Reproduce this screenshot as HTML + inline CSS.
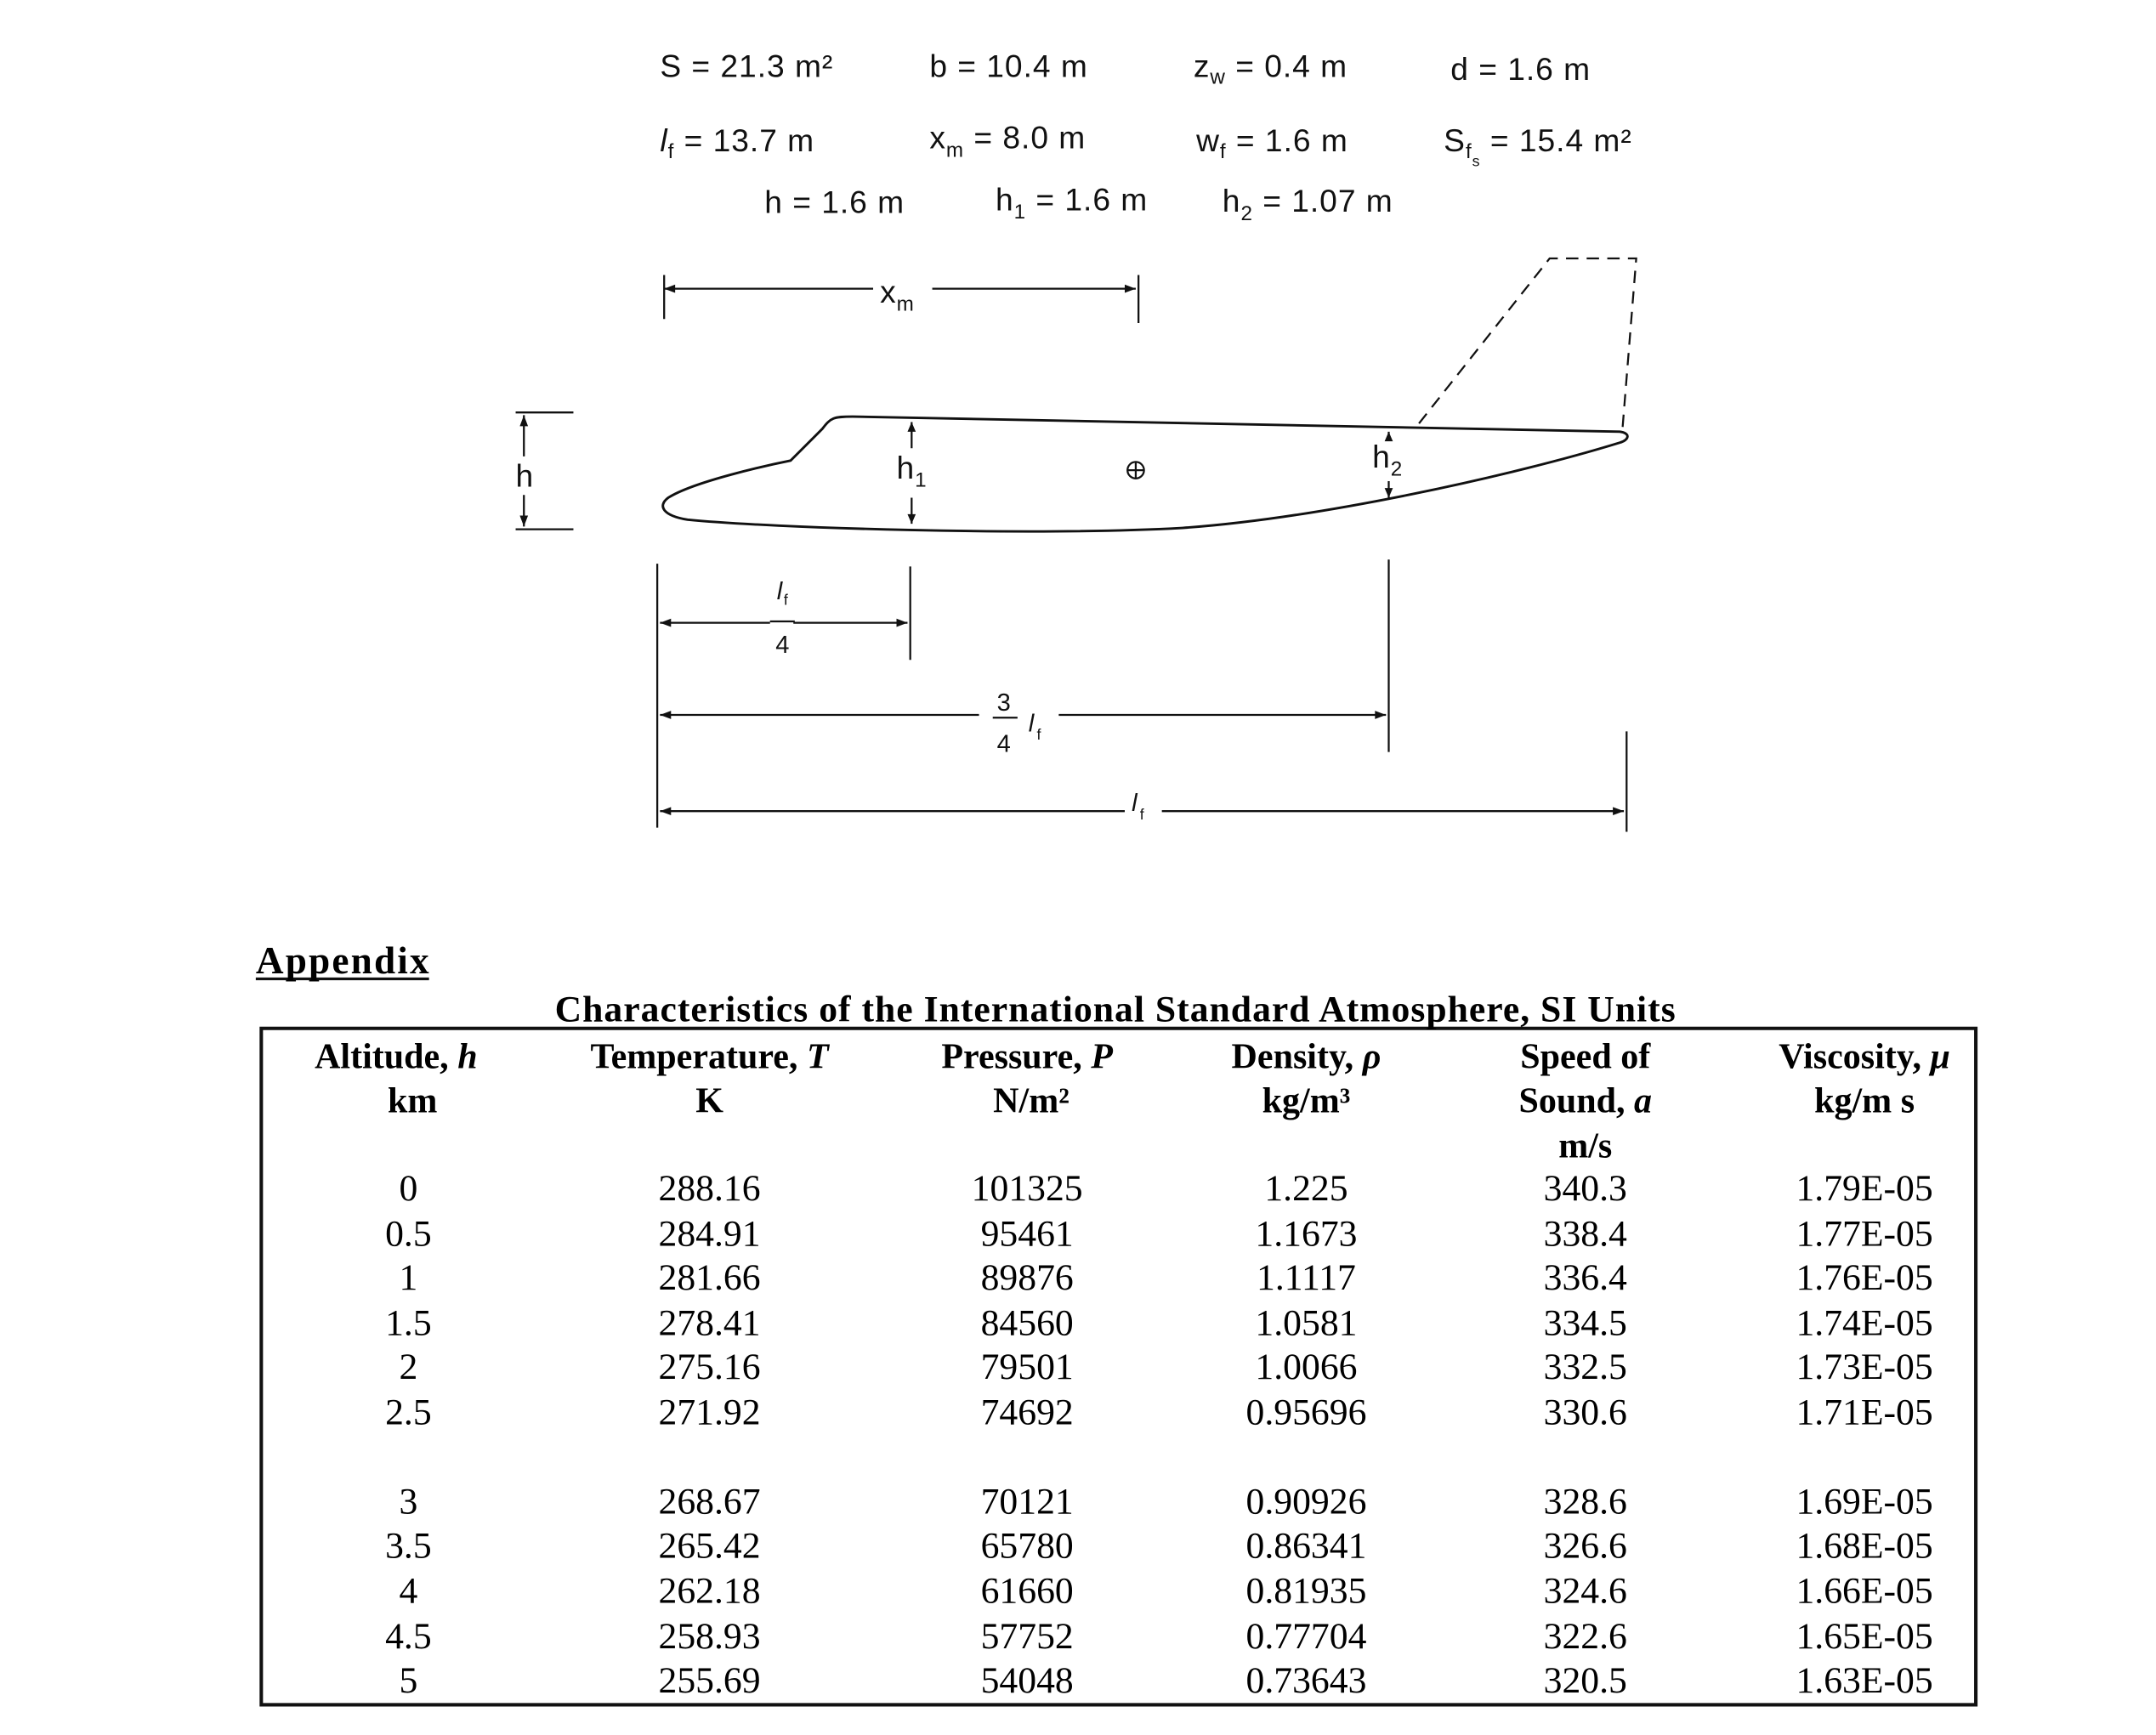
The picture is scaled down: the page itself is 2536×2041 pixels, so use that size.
<!DOCTYPE html>
<html><head><meta charset="utf-8"><style>html,body{margin:0;padding:0;background:#fff}svg{display:block}</style></head>
<body>
<svg width="2536" height="2041" viewBox="0 0 1568 1262" xmlns="http://www.w3.org/2000/svg">
<rect width="1568" height="1262" fill="#fff"/>
<g font-family="Liberation Sans, sans-serif" font-size="23" fill="#111" letter-spacing="0.6">
<text x="480" y="56">S = 21.3 m²</text>
<text x="676" y="56">b = 10.4 m</text>
<text x="868" y="56">z<tspan font-size="15" dy="5">w</tspan><tspan dy="-5"> = 0.4 m</tspan></text>
<text x="1055" y="58">d = 1.6 m</text>
<text x="480" y="110"><tspan font-style="italic">l</tspan><tspan font-size="15" dy="5">f</tspan><tspan dy="-5"> = 13.7 m</tspan></text>
<text x="676" y="108">x<tspan font-size="15" dy="6">m</tspan><tspan dy="-6"> = 8.0 m</tspan></text>
<text x="870" y="110">w<tspan font-size="15" dy="5">f</tspan><tspan dy="-5"> = 1.6 m</tspan></text>
<text x="1050" y="110">S<tspan font-size="15" dy="5">f</tspan><tspan font-size="11" dy="6">s</tspan><tspan dy="-11"> = 15.4 m²</tspan></text>
<text x="556" y="155">h = 1.6 m</text>
<text x="724" y="153">h<tspan font-size="15" dy="6">1</tspan><tspan dy="-6"> = 1.6 m</tspan></text>
<text x="889" y="154">h<tspan font-size="15" dy="6">2</tspan><tspan dy="-6"> = 1.07 m</tspan></text>
<text x="640" y="220">x<tspan font-size="15" dy="6">m</tspan></text>
<text x="375" y="354">h</text>
<text x="652" y="348">h<tspan font-size="15" dy="6">1</tspan></text>
<text x="998" y="340">h<tspan font-size="15" dy="6">2</tspan></text>
<g font-size="18" letter-spacing="0"><text x="565" y="436" font-style="italic">l</text><text x="570" y="440" font-size="11">f</text><text x="564" y="475">4</text>
<text x="725" y="517">3</text><text x="725" y="547">4</text><text x="748" y="532" font-style="italic">l</text><text x="754" y="538" font-size="11">f</text>
<text x="823" y="590" font-style="italic">l</text><text x="829" y="596" font-size="11">f</text></g>
</g>
<g stroke="#111" fill="none" stroke-width="1.4">
<path d="M483 200V232M828 200V235M483 210H635M678 210H826"/>
<path d="M375 300H417M375 385H417M381 302V332M381 360V383"/>
<path d="M663 307V326M663 362V381M1010 314V320M1010 350V362"/>
<path d="M478 410V602M662 412V480M1010 407V547M1183 532V605"/>
<path d="M480 453H560M577 453H660M560 452H578"/>
<path d="M480 520H712M770 520H1008M722 522H740"/>
<path d="M480 590H818M845 590H1181"/>
<path d="M598 312C604 304 606 303 620 303L1178 314C1186 315 1185 320 1178 322C1100 346 960 377 860 384C750 390 560 384 500 378C482 375 478 368 486 362C505 350 560 338 575 335Z" stroke-width="1.8"/>
<path d="M1032 308L1127 188H1190L1180 312" stroke-dasharray="9 6"/>
<circle cx="826" cy="342" r="6"/><path d="M820 342H832M826 336V348"/>
<path d="M190 748H1437V1240H190Z" stroke-width="2.5"/>
<path d="M186 712H312" stroke-width="2"/>
</g>
<g fill="#111"><path d="M483 210l8-3v6zM826 210l-8-3v6zM381 302l-3 8h6zM381 383l-3-8h6zM663 307l-3 7h6zM663 381l-3-7h6zM1010 314l-3 7h6zM1010 362l-3-7h6zM480 453l8-3v6zM660 453l-8-3v6zM480 520l8-3v6zM1008 520l-8-3v6zM480 590l8-3v6zM1181 590l-8-3v6z"/></g>
<g font-family="Liberation Serif, serif" fill="#000" text-anchor="middle">
<text x="186" y="708" font-size="28" font-weight="bold" text-anchor="start" textLength="126">Appendix</text>
<text x="811" y="743" font-size="27" font-weight="bold" textLength="815">Characteristics of the International Standard Atmosphere, SI Units</text>
<g font-size="26" font-weight="bold">
<text x="288" y="777">Altitude, <tspan font-style="italic">h</tspan></text><text x="300" y="809">km</text>
<text x="516" y="777">Temperature, <tspan font-style="italic">T</tspan></text><text x="516" y="809">K</text>
<text x="747" y="777">Pressure, <tspan font-style="italic">P</tspan></text><text x="750" y="809">N/m²</text>
<text x="950" y="777">Density, <tspan font-style="italic">ρ</tspan></text><text x="950" y="809">kg/m³</text>
<text x="1153" y="777">Speed of</text><text x="1153" y="809">Sound, <tspan font-style="italic">a</tspan></text><text x="1153" y="842">m/s</text>
<text x="1356" y="777">Viscosity, <tspan font-style="italic">μ</tspan></text><text x="1356" y="809">kg/m s</text>
</g>
<g font-size="27">
<text y="873"><tspan x="297">0</tspan><tspan x="516">288.16</tspan><tspan x="747">101325</tspan><tspan x="950">1.225</tspan><tspan x="1153">340.3</tspan><tspan x="1356">1.79E-05</tspan></text>
<text y="906"><tspan x="297">0.5</tspan><tspan x="516">284.91</tspan><tspan x="747">95461</tspan><tspan x="950">1.1673</tspan><tspan x="1153">338.4</tspan><tspan x="1356">1.77E-05</tspan></text>
<text y="938"><tspan x="297">1</tspan><tspan x="516">281.66</tspan><tspan x="747">89876</tspan><tspan x="950">1.1117</tspan><tspan x="1153">336.4</tspan><tspan x="1356">1.76E-05</tspan></text>
<text y="971"><tspan x="297">1.5</tspan><tspan x="516">278.41</tspan><tspan x="747">84560</tspan><tspan x="950">1.0581</tspan><tspan x="1153">334.5</tspan><tspan x="1356">1.74E-05</tspan></text>
<text y="1003"><tspan x="297">2</tspan><tspan x="516">275.16</tspan><tspan x="747">79501</tspan><tspan x="950">1.0066</tspan><tspan x="1153">332.5</tspan><tspan x="1356">1.73E-05</tspan></text>
<text y="1036"><tspan x="297">2.5</tspan><tspan x="516">271.92</tspan><tspan x="747">74692</tspan><tspan x="950">0.95696</tspan><tspan x="1153">330.6</tspan><tspan x="1356">1.71E-05</tspan></text>
<text y="1101"><tspan x="297">3</tspan><tspan x="516">268.67</tspan><tspan x="747">70121</tspan><tspan x="950">0.90926</tspan><tspan x="1153">328.6</tspan><tspan x="1356">1.69E-05</tspan></text>
<text y="1133"><tspan x="297">3.5</tspan><tspan x="516">265.42</tspan><tspan x="747">65780</tspan><tspan x="950">0.86341</tspan><tspan x="1153">326.6</tspan><tspan x="1356">1.68E-05</tspan></text>
<text y="1166"><tspan x="297">4</tspan><tspan x="516">262.18</tspan><tspan x="747">61660</tspan><tspan x="950">0.81935</tspan><tspan x="1153">324.6</tspan><tspan x="1356">1.66E-05</tspan></text>
<text y="1199"><tspan x="297">4.5</tspan><tspan x="516">258.93</tspan><tspan x="747">57752</tspan><tspan x="950">0.77704</tspan><tspan x="1153">322.6</tspan><tspan x="1356">1.65E-05</tspan></text>
<text y="1231"><tspan x="297">5</tspan><tspan x="516">255.69</tspan><tspan x="747">54048</tspan><tspan x="950">0.73643</tspan><tspan x="1153">320.5</tspan><tspan x="1356">1.63E-05</tspan></text>
</g>
</g>
</svg>
</body></html>
